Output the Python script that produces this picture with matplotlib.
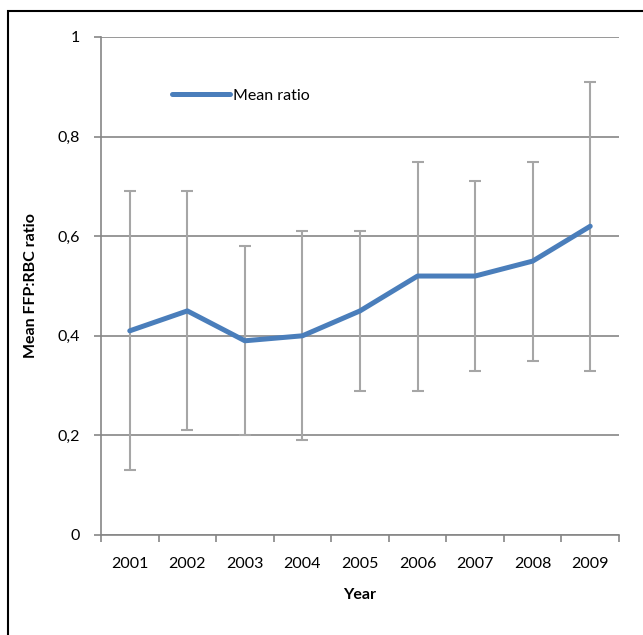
import matplotlib
matplotlib.use("Agg")
import matplotlib.pyplot as plt
from matplotlib.patches import Rectangle

plt.rcParams['font.family'] = ['Lato', 'DejaVu Sans']

years = ["2001", "2002", "2003", "2004", "2005", "2006", "2007", "2008", "2009"]
mean_ratio = [0.41, 0.45, 0.39, 0.40, 0.45, 0.52, 0.52, 0.55, 0.62]
upper = [0.69, 0.69, 0.58, 0.61, 0.61, 0.75, 0.71, 0.75, 0.91]
lower = [0.13, 0.21, 0.20, 0.19, 0.29, 0.29, 0.33, 0.35, 0.33]
y_ticks = [0, 0.2, 0.4, 0.6, 0.8, 1]
y_labels = ["0", "0,2", "0,4", "0,6", "0,8", "1"]

grid_col = "#868686"
err_col = "#A6A6A6"
line_col = "#4A7EBB"

fig = plt.figure(figsize=(6.43, 6.35), dpi=100)
ax = fig.add_axes([101 / 643, 1 - 535 / 635, 518 / 643, 498 / 635])

x = list(range(1, len(years) + 1))
err_lo = [m - l for m, l in zip(mean_ratio, lower)]
err_hi = [u - m for m, u in zip(mean_ratio, upper)]
ax.errorbar(x, mean_ratio, yerr=[err_lo, err_hi], fmt="none", ecolor=err_col,
            elinewidth=1.5, capsize=4.5, capthick=1.5, zorder=2)
ax.plot(x, mean_ratio, color=line_col, lw=3.6, solid_capstyle="round",
        label="Mean ratio", zorder=3)

ax.set_xlim(0.5, len(years) + 0.5)
ax.set_ylim(0, 1)
ax.set_yticks(y_ticks)
ax.set_yticklabels(y_labels)
ax.set_xticks(x)
ax.set_xticklabels(years)
ax.set_xticks([i + 0.5 for i in range(len(years) + 1)], minor=True)
ax.tick_params(axis="x", which="major", length=0, pad=16, labelsize=11.5)
ax.tick_params(axis="x", which="minor", length=5, width=1.2, color=grid_col, direction="out")
ax.tick_params(axis="y", length=5, width=1.2, color=grid_col, pad=10, labelsize=11.5)

ax.grid(axis="y", color=grid_col, lw=1.2, zorder=0)
for s in ["top", "right"]:
    ax.spines[s].set_visible(False)
for s in ["left", "bottom"]:
    ax.spines[s].set_color(grid_col)
    ax.spines[s].set_linewidth(1.2)

ax.set_xlabel("Year", fontsize=11.5, fontweight="bold", labelpad=12)
ax.set_ylabel("Mean FFP:RBC ratio", fontsize=11.5, fontweight="bold", labelpad=14)

ax.legend(loc="upper left", bbox_to_anchor=(0.11, 0.925), frameon=False,
          handlelength=3.6, handletextpad=0.2, fontsize=11.5)

fig.patches.append(Rectangle((8 / 643, -0.1), 1.2, 1.1 - 11 / 635, transform=fig.transFigure,
                             fill=False, edgecolor="black", lw=1.5))

fig.savefig("out.png", dpi=100)
